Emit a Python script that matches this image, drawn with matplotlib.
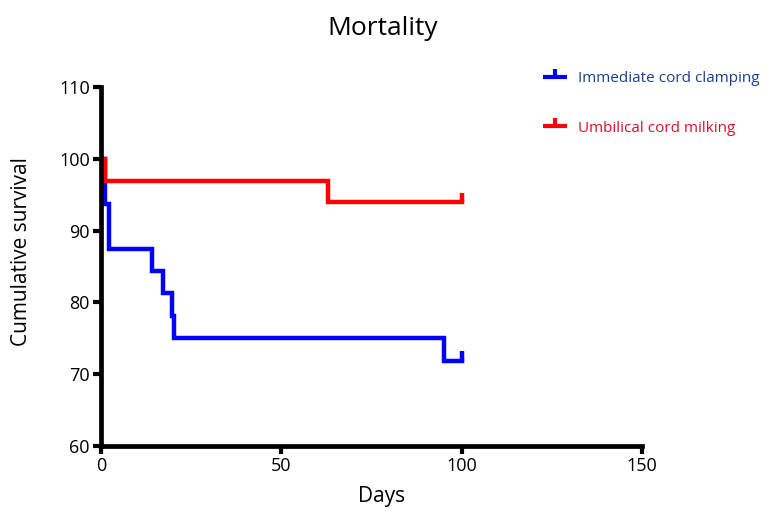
import matplotlib
matplotlib.use("Agg")
import matplotlib.pyplot as plt
from matplotlib.lines import Line2D

plt.rcParams['font.family'] = ['Open Sans', 'DejaVu Sans']

# Kaplan-Meier steps (days, cumulative survival %)
icc_days = [0, 1.1, 2.2, 14.1, 17.3, 19.6, 20.2, 95.1, 100]
icc_surv = [100, 93.75, 87.5, 84.375, 81.25, 78.125, 75.0, 71.875, 71.875]
ucm_days = [0, 1.0, 62.9, 100]
ucm_surv = [100, 96.97, 93.94, 93.94]

labels = ['Immediate cord clamping', 'Umbilical cord milking']
line_colors = ['#0000ff', '#ff0000']
text_colors = ['#1c3d8f', '#d9102b']

fig = plt.figure(figsize=(7.72, 5.24), dpi=100)
ax = fig.add_axes([0.1308, 0.1489, 0.7008, 0.6851])

for days, surv, c in [(icc_days, icc_surv, line_colors[0]),
                      (ucm_days, ucm_surv, line_colors[1])]:
    ax.step(days, surv, where='post', color=c, lw=3.2, solid_joinstyle='miter')
    # censor tick at end of follow-up
    ax.plot([days[-1], days[-1]], [surv[-1], surv[-1] + 1.3], color=c, lw=3.2,
            solid_capstyle='butt')

ax.set_xlim(0, 150)
ax.set_ylim(60, 110)
ax.set_xticks([0, 50, 100, 150])
ax.set_yticks([60, 70, 80, 90, 100, 110])
for s in ['top', 'right']:
    ax.spines[s].set_visible(False)
for s in ['left', 'bottom']:
    ax.spines[s].set_linewidth(3.4)
    ax.spines[s].set_capstyle('projecting')
ax.tick_params(axis='both', width=3, length=6, labelsize=13, pad=2, color='black')

fig.text(0.496, 0.946, 'Mortality', ha='center', va='center', fontsize=19)
fig.text(0.494, 0.052, 'Days', ha='center', va='center', fontsize=15)
fig.text(0.028, 0.52, 'Cumulative survival', ha='center', va='center',
         rotation=90, fontsize=15)

handles = [Line2D([0], [0], color=c, lw=3, marker=2, markersize=6,
                  markeredgewidth=3, solid_capstyle='butt')
           for c in line_colors]
leg = fig.legend(handles, labels, loc='upper left', bbox_to_anchor=(0.685, 0.89),
                 frameon=False, fontsize=11, labelspacing=2.25, handlelength=1.6,
                 handletextpad=0.7, numpoints=1, labelcolor=text_colors)

fig.savefig('out.png', dpi=100)
